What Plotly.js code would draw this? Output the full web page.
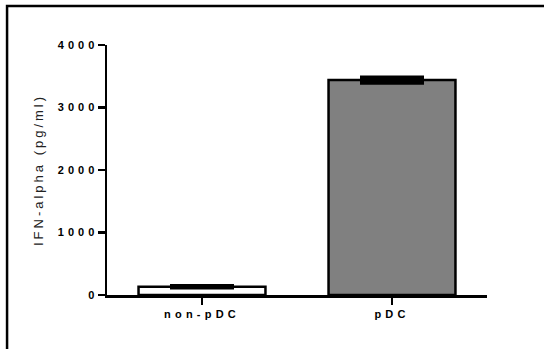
<!DOCTYPE html>
<html>
<head>
<meta charset="utf-8">
<script src="https://cdn.plot.ly/plotly-3.0.1.min.js"></script>
<style>
html,body{margin:0;padding:0;background:#fff;}
#chart{width:544px;height:349px;}
.xtick text { letter-spacing: 4.2px; }
.ytick text { letter-spacing: 4px; }
.g-ytitle text { letter-spacing: 3px; }
</style>
</head>
<body>
<div id="chart"></div>
<script>
var categories = ["non-pDC", "pDC"];
var meanValues = [133, 3440];
var errValues = [12, 42];
var barColors = ["#ffffff", "#808080"];
var yTickValues = [0, 1000, 2000, 3000, 4000];
var yTickLabels = ["0", "1000", "2000", "3000", "4000"];

var trace = {
  type: "bar",
  x: categories,
  y: meanValues,
  width: 0.668,
  marker: { color: barColors, line: { color: "#000", width: 2.5 } },
  error_y: { type: "data", array: errValues, visible: true, color: "#000", thickness: 4, width: 32 },
  hoverinfo: "none"
};

var layout = {
  width: 544, height: 349,
  margin: { l: 107, r: 57, t: 45, b: 54 },
  paper_bgcolor: "#fff", plot_bgcolor: "#fff",
  showlegend: false,
  font: { family: "Liberation Sans, Arial, sans-serif", color: "#000" },
  xaxis: {
    range: [-0.5, 1.5],
    showline: true, linecolor: "#000", linewidth: 2.5,
    ticks: "outside", ticklen: 7, tickwidth: 2.5, tickcolor: "#000",
    showgrid: false, zeroline: false,
    tickfont: { family: "Liberation Sans, Arial, sans-serif", size: 11, color: "#000", weight: "bold" }
  },
  yaxis: {
    range: [0, 4000],
    tickvals: yTickValues, ticktext: yTickLabels,
    showline: true, linecolor: "#000", linewidth: 2.5,
    ticks: "outside", ticklen: 7, tickwidth: 2.5, tickcolor: "#000",
    ticklabelstandoff: -3,
    showgrid: false, zeroline: false,
    tickfont: { family: "Liberation Sans, Arial, sans-serif", size: 11, color: "#000", weight: "bold" },
    title: { text: "IFN-alpha (pg/ml)", standoff: 12, font: { family: "Liberation Sans, Arial, sans-serif", size: 13, color: "#222" } }
  },
  shapes: [{
    type: "rect", xref: "paper", yref: "paper",
    x0: -0.263, x1: 1.4, y0: -0.3, y1: 1.156,
    line: { color: "#000", width: 2.5 }, fillcolor: "rgba(0,0,0,0)", layer: "below"
  }]
};

Plotly.newPlot("chart", [trace], layout, { displayModeBar: false, staticPlot: true });
</script>
</body>
</html>
